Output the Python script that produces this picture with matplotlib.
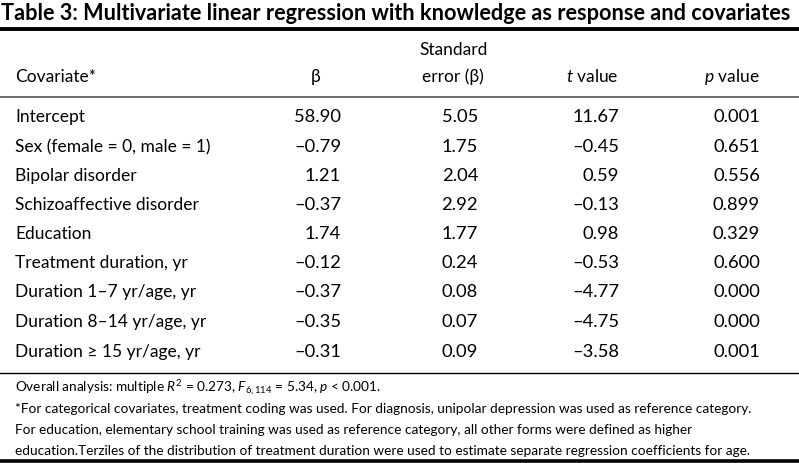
import matplotlib.pyplot as plt
from matplotlib.lines import Line2D

plt.rcParams['font.family'] = ['Lato', 'DejaVu Sans']
plt.rcParams['mathtext.fontset'] = 'custom'
plt.rcParams['mathtext.rm'] = 'Lato'
plt.rcParams['mathtext.it'] = 'Lato:italic'

# datos de la tabla
covariates = ['Intercept', 'Sex (female = 0, male = 1)', 'Bipolar disorder',
              'Schizoaffective disorder', 'Education', 'Treatment duration, yr',
              'Duration 1–7 yr/age, yr', 'Duration 8–14 yr/age, yr',
              'Duration ≥ 15 yr/age, yr']
beta = [58.90, -0.79, 1.21, -0.37, 1.74, -0.12, -0.37, -0.35, -0.31]
std_err = [5.05, 1.75, 2.04, 2.92, 1.77, 0.24, 0.08, 0.07, 0.09]
t_value = [11.67, -0.45, 0.59, -0.13, 0.98, -0.53, -4.77, -4.75, -3.58]
p_value = [0.001, 0.651, 0.556, 0.899, 0.329, 0.600, 0.000, 0.000, 0.001]

title = 'Table 3: Multivariate linear regression with knowledge as response and covariates'
footnotes = [
    r'Overall analysis: multiple $R^2$ = 0.273, $F_{6,114}$ = 5.34, $p$ < 0.001.',
    '*For categorical covariates, treatment coding was used. For diagnosis, unipolar depression was used as reference category.',
    'For education, elementary school training was used as reference category, all other forms were defined as higher',
    'education.Terziles of the distribution of treatment duration were used to estimate separate regression coefficients for age.',
]

W, H = 799, 463
fig = plt.figure(figsize=(W / 100, H / 100), dpi=100)


def fx(x):
    return x / W


def fy(y):
    return 1 - y / H


def num(v, d=2):
    s = f'{v:.{d}f}'
    return s.replace('-', '–')


def hline(y, lw, color='black'):
    fig.add_artist(Line2D([0, 1], [fy(y), fy(y)], transform=fig.transFigure,
                          lw=lw, color=color))


fs = 12.5
nfs = 13.2
fig.text(fx(1), fy(13), title, fontsize=15.6, fontweight='bold', va='center', ha='left')
hline(29, 2.8)
hline(97, 1.2, '#555555')
hline(372.5, 1.0)
hline(460.5, 2.6)

# encabezados
fig.text(fx(15), fy(77), 'Covariate*', fontsize=fs, va='center')
fig.text(fx(316), fy(77), 'β', fontsize=fs, va='center', ha='center')
fig.text(fx(454), fy(50), 'Standard', fontsize=fs, va='center', ha='center')
fig.text(fx(453), fy(77), 'error (β)', fontsize=fs, va='center', ha='center')
fig.text(fx(619), fy(77), r'$t$ value', fontsize=fs, va='center', ha='right')
fig.text(fx(760), fy(77), r'$p$ value', fontsize=fs, va='center', ha='right')

row_y = [117, 147, 176, 205, 234, 263, 292, 322, 352]
for i, y in enumerate(row_y):
    fig.text(fx(15), fy(y), covariates[i], fontsize=fs, va='center')
    fig.text(fx(341), fy(y), num(beta[i]), fontsize=nfs, va='center', ha='right')
    fig.text(fx(478), fy(y), num(std_err[i]), fontsize=nfs, va='center', ha='right')
    fig.text(fx(619), fy(y), num(t_value[i]), fontsize=nfs, va='center', ha='right')
    fig.text(fx(760), fy(y), num(p_value[i], 3), fontsize=nfs, va='center', ha='right')

for i, line in enumerate(footnotes):
    fig.text(fx(15), fy(388 + 21 * i), line, fontsize=9.8, va='center')

fig.savefig('out.png', dpi=100)
